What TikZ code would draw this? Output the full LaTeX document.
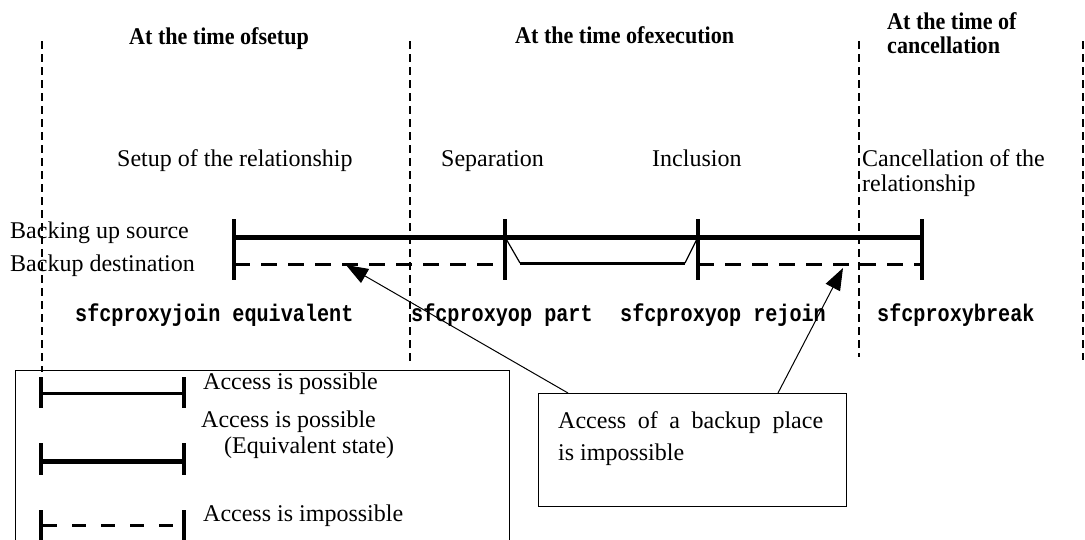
\documentclass[tikz,border=0pt]{standalone}
\usepackage{fontspec}
\setmainfont{Liberation Serif}
\newfontfamily\headfont{Liberation Serif}[FakeStretch=0.92]
\newfontfamily\cmdfont{Liberation Mono}[FakeStretch=0.84]
\usetikzlibrary{arrows.meta,calc}

\begin{document}
\begin{tikzpicture}[x=1pt,y=-1pt,
  lbl/.style={anchor=base west,inner sep=0pt,font=\fontsize{24}{28}\selectfont},
  head/.style={anchor=base west,inner sep=0pt,font=\headfont\bfseries\fontsize{24}{24}\selectfont},
  cmd/.style={anchor=base west,inner sep=0pt,font=\cmdfont\bfseries\fontsize{24}{24}\selectfont},
  divider/.style={line width=1.5pt,dash pattern=on 8pt off 5pt},
  tickmark/.style={line width=3.5pt},
  thickbar/.style={line width=5pt},
  plainbar/.style={line width=3pt},
  dashbar/.style={line width=3pt,dash pattern=on 16pt off 11pt},
  slant/.style={line width=1.2pt},
  boxframe/.style={draw,line width=1.2pt,inner sep=0pt,anchor=north west},
  pointer/.style={line width=1pt,-{Triangle[length=22pt,width=16pt]}}
]
\useasboundingbox (0,0) rectangle (1085,539);
\clip (0,0) rectangle (1085,539);
\fill[white] (0,0) rectangle (1085,539);

% phase dividers
\coordinate (d1t) at (42,41);   \coordinate (d1b) at (42,372);
\coordinate (d2t) at (410,41);  \coordinate (d2b) at (410,361);
\coordinate (d3t) at (859,41);  \coordinate (d3b) at (859,357);
\coordinate (d4t) at (1083,41); \coordinate (d4b) at (1083,360);
\draw[divider] (d1t) -- (d1b);
\draw[divider] (d2t) -- (d2b);
\draw[divider] (d3t) -- (d3b);
\draw[divider] (d4t) -- (d4b);

% phase headings
\node[head] (hsetup) at (129,44) {At the time ofsetup};
\node[head] (hexec) at (515,43) {At the time ofexecution};
\node[head] (hcan1) at (887,29) {At the time of};
\node[head] (hcan2) at (887,53) {cancellation};

% operation names
\node[lbl] (osetup) at (117,166) {Setup of the relationship};
\node[lbl] (osep) at (441,166) {Separation};
\node[lbl] (oinc) at (652,166) {Inclusion};
\node[lbl] (ocan1) at (862,166) {Cancellation of the};
\node[lbl] (ocan2) at (862,191) {relationship};

% volume rows
\node[lbl] (rsrc) at (10,238) {Backing up source};
\node[lbl] (rdst) at (10,271) {Backup destination};

% timeline
\coordinate (s0) at (234,237); \coordinate (s1) at (505,237);
\coordinate (s2) at (698,237); \coordinate (s3) at (922,237);
\coordinate (b0) at (234,264); \coordinate (b1) at (505,264);
\coordinate (b2) at (698,264); \coordinate (b3) at (922,264);
\coordinate (p1) at (520,263);  \coordinate (p2) at (685,263);
\draw[thickbar] (s0) -- (s3);
\draw[dashbar] (b0) -- (b1);
\draw[dashbar] (b2) -- (b3);
\draw[plainbar] (p1) -- (p2);
\draw[slant] (s1) -- (p1);
\draw[slant] (p2) -- (s2);
\foreach \t in {234,505,698,922}
  \draw[tickmark] (\t,219) -- (\t,280);

% commands
\node[cmd] (cjoin) at (75,321) {sfcproxyjoin equivalent};
\node[cmd] (cpart) at (411,321) {sfcproxyop part};
\node[cmd] (crejoin) at (620,321) {sfcproxyop rejoin};
\node[cmd] (cbreak) at (877,321) {sfcproxybreak};

% legend
\node[boxframe,minimum width=494pt,minimum height=190pt] (legend) at (15,370) {};
\draw[plainbar] (41,393) -- (184,393);
\draw[tickmark] (41,377) -- (41,408);
\draw[tickmark] (184,377) -- (184,408);
\draw[thickbar] (41,461) -- (184,461);
\draw[tickmark] (41,443) -- (41,475);
\draw[tickmark] (184,443) -- (184,475);
\draw[dashbar,dash pattern=on 14pt off 15pt,dash phase=-2pt] (41,525) -- (184,525);
\draw[tickmark] (41,510) -- (41,545);
\draw[tickmark] (184,510) -- (184,545);
\node[lbl] (lg1) at (203,389) {Access is possible};
\node[lbl] (lg2) at (201,427) {Access is possible};
\node[lbl] (lg3) at (224,453) {(Equivalent state)};
\node[lbl] (lg4) at (203,521) {Access is impossible};

% callout
\node[boxframe,minimum width=308pt,minimum height=113pt] (callout) at (538,393) {};
\node[lbl] (ct1) at (558,428) {\hbox to 265pt{Access\hfill of\hfill a\hfill backup\hfill place}};
\node[lbl] (ct2) at (558,460) {is impossible};
\coordinate (tipA) at (346,265);
\coordinate (tipB) at (843,268);
\draw[pointer] ($(callout.north west)+(30,0)$) -- (tipA);
\draw[pointer] ($(callout.north west)+(240,0)$) -- (tipB);
\end{tikzpicture}
\end{document}
